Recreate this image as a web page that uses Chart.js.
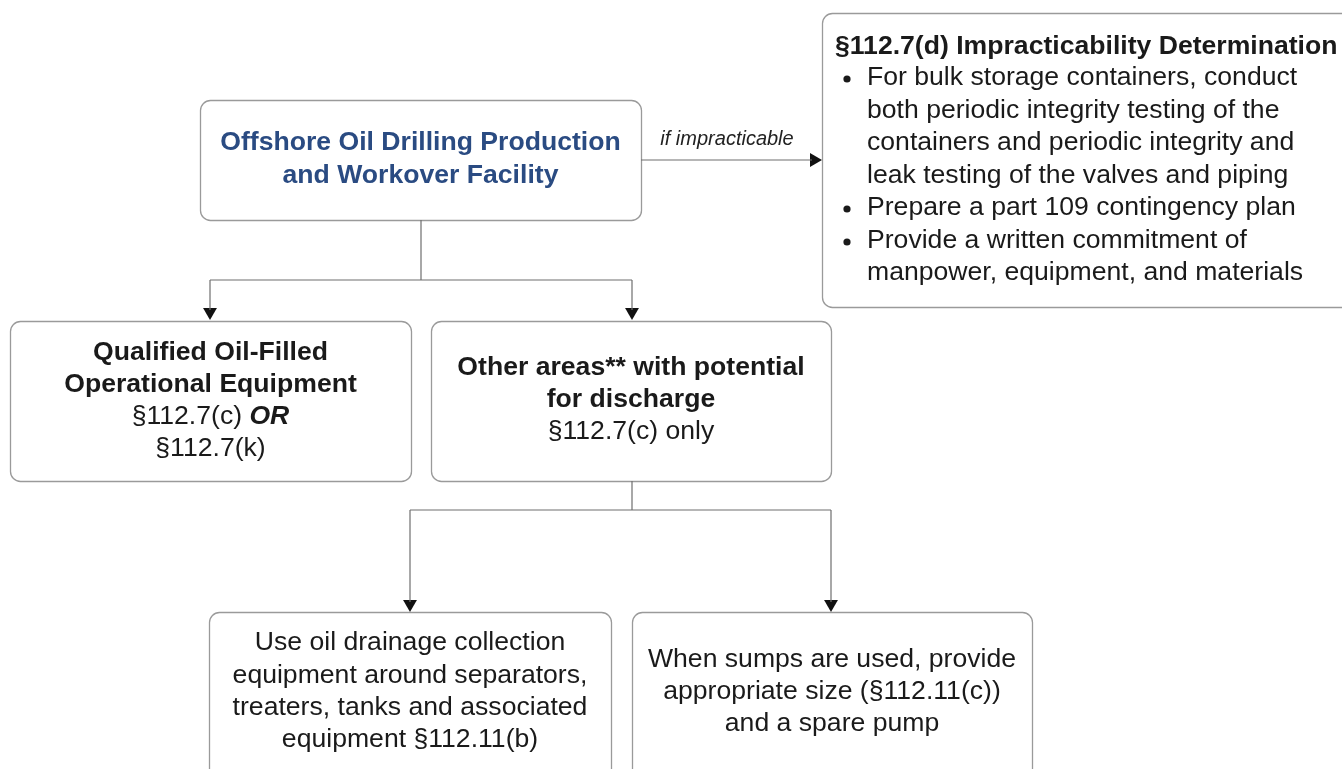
<!DOCTYPE html>
<html>
<head>
<meta charset="utf-8">
<script src="https://cdn.jsdelivr.net/npm/chart.js@4"></script>
<style>
  html, body { margin: 0; padding: 0; background: #fff; }
  #wrap { width: 1342px; height: 769px; position: relative; }
</style>
</head>
<body>
<div id="wrap"><canvas id="flow"></canvas></div>
<script>
// boxes: left, right, top, bottom (chart units = pixels of the picture)
var boxX0 = [200, 822, 10, 431, 209, 632];
var boxX1 = [641, 1352, 411, 831, 611, 1032];
var boxY0 = [100, 13, 321, 321, 612, 612];
var boxY1 = [220, 307, 481, 481, 790, 790];

// text of each box, one entry per line, each line a list of [text, style]
var boxText = [
  [[["Offshore Oil Drilling Production", "b"]], [["and Workover Facility", "b"]]],
  [[["§112.7(d) Impracticability Determination", "b"]],
   [["For bulk storage containers, conduct", "n"]],
   [["both periodic integrity testing of the", "n"]],
   [["containers and periodic integrity and", "n"]],
   [["leak testing of the valves and piping", "n"]],
   [["Prepare a part 109 contingency plan", "n"]],
   [["Provide a written commitment of", "n"]],
   [["manpower, equipment, and materials", "n"]]],
  [[["Qualified Oil-Filled", "b"]], [["Operational Equipment", "b"]],
   [["§112.7(c) ", "n"], ["OR", "bi"]], [["§112.7(k)", "n"]]],
  [[["Other areas** with potential", "b"]], [["for discharge", "b"]], [["§112.7(c) only", "n"]]],
  [[["Use oil drainage collection", "n"]], [["equipment around separators,", "n"]],
   [["treaters, tanks and associated", "n"]], [["equipment §112.11(b)", "n"]]],
  [[["When sumps are used, provide", "n"]], [["appropriate size (§112.11(c))", "n"]], [["and a spare pump", "n"]]]
];
var boxLineY = [
  [143, 176],
  [47, 78, 111, 143, 176, 208, 241, 273],
  [353, 385, 417, 449],
  [368, 400, 432],
  [643, 676, 708, 740],
  [660, 692, 724]
];
// bullet marks in the right box: line index of each bullet
var bulletLines = [1, 5, 6];

// connectors as polylines [x, y, x, y, ...]
var links = [
  [641, 160, 812, 160],
  [421, 220, 421, 280],
  [210, 280, 632, 280],
  [210, 280, 210, 310],
  [632, 280, 632, 310],
  [632, 481, 632, 510],
  [410, 510, 831, 510],
  [410, 510, 410, 602],
  [831, 510, 831, 602]
];
// arrow heads: tip x, tip y, direction
var arrowX = [822, 210, 632, 410, 831];
var arrowY = [160, 320, 320, 612, 612];
var arrowDir = ["right", "down", "down", "down", "down"];

var linkLabel = "if impracticable";
var linkLabelX = 727, linkLabelY = 139;

var FAMILY = '"Liberation Sans", Arial, sans-serif';
var SIZE = 26.6;

function fontFor(style) {
  if (style === "b") return "bold " + SIZE + "px " + FAMILY;
  if (style === "bi") return "italic bold " + SIZE + "px " + FAMILY;
  return SIZE + "px " + FAMILY;
}

var datasets = [];
links.forEach(function(l) {
  var pts = [];
  for (var i = 0; i < l.length; i += 2) pts.push({x: l[i], y: l[i + 1]});
  datasets.push({
    data: pts, showLine: true, borderColor: "#6f6f6f", borderWidth: 1.2,
    pointRadius: 0, fill: false
  });
});

var R = 8;
var arrowPts = [];
for (var i = 0; i < arrowX.length; i++) {
  if (arrowDir[i] === "right") arrowPts.push({x: arrowX[i] - R, y: arrowY[i]});
  else arrowPts.push({x: arrowX[i], y: arrowY[i] - R});
}
datasets.push({
  data: arrowPts, showLine: false,
  pointStyle: "triangle", pointRadius: R, pointHoverRadius: R,
  pointRotation: function(c) { return arrowDir[c.dataIndex] === "right" ? 90 : 180; },
  backgroundColor: "#111", borderColor: "#111", borderWidth: 0
});

var boxesPlugin = {
  id: "boxes",
  beforeDatasetsDraw: function(chart) {
    var ctx = chart.ctx, xs = chart.scales.x, ys = chart.scales.y;
    ctx.save();
    for (var i = 0; i < boxX0.length; i++) {
      var x0 = xs.getPixelForValue(boxX0[i]), x1 = xs.getPixelForValue(boxX1[i]);
      var y0 = ys.getPixelForValue(boxY0[i]), y1 = ys.getPixelForValue(boxY1[i]);
      ctx.beginPath();
      ctx.roundRect(x0 + 0.5, y0 + 0.5, x1 - x0, y1 - y0, 10);
      ctx.fillStyle = "#fff";
      ctx.fill();
      ctx.lineWidth = 1.3;
      ctx.strokeStyle = "#9a9a9a";
      ctx.stroke();
    }
    ctx.restore();
  },
  afterDatasetsDraw: function(chart) {
    var ctx = chart.ctx, xs = chart.scales.x, ys = chart.scales.y;
    ctx.save();
    ctx.textBaseline = "middle";
    for (var i = 0; i < boxText.length; i++) {
      var x0 = xs.getPixelForValue(boxX0[i]), x1 = xs.getPixelForValue(boxX1[i]);
      var cx = (x0 + x1) / 2;
      ctx.fillStyle = i === 0 ? "#2a4b82" : "#1a1a1a";
      boxText[i].forEach(function(line, j) {
        var y = ys.getPixelForValue(boxLineY[i][j]);
        var w = 0;
        line.forEach(function(run) { ctx.font = fontFor(run[1]); w += ctx.measureText(run[0]).width; });
        var x;
        if (i === 1) {
          x = j === 0 ? x0 + 13 : x0 + 45;
        } else {
          x = cx - w / 2;
        }
        ctx.textAlign = "left";
        line.forEach(function(run) {
          ctx.font = fontFor(run[1]);
          ctx.fillText(run[0], x, y);
          x += ctx.measureText(run[0]).width;
        });
      });
    }
    // bullets
    ctx.fillStyle = "#1a1a1a";
    bulletLines.forEach(function(j) {
      ctx.beginPath();
      ctx.arc(xs.getPixelForValue(boxX0[1]) + 25, ys.getPixelForValue(boxLineY[1][j]) + 1, 3.6, 0, Math.PI * 2);
      ctx.fill();
    });
    // link label
    ctx.font = "italic 20px " + FAMILY;
    ctx.textAlign = "center";
    ctx.fillStyle = "#222";
    ctx.fillText(linkLabel, xs.getPixelForValue(linkLabelX), ys.getPixelForValue(linkLabelY));
    ctx.restore();
  }
};

new Chart(document.getElementById("flow"), {
  type: "scatter",
  data: { datasets: datasets },
  options: {
    responsive: true,
    maintainAspectRatio: false,
    animation: false,
    devicePixelRatio: 1,
    layout: { padding: 0, autoPadding: false },
    plugins: { legend: { display: false }, tooltip: { enabled: false } },
    events: [],
    scales: {
      x: { type: "linear", min: 0, max: 1342, display: false },
      y: { type: "linear", min: 0, max: 769, reverse: true, display: false }
    }
  },
  plugins: [boxesPlugin]
});
</script>
</body>
</html>
